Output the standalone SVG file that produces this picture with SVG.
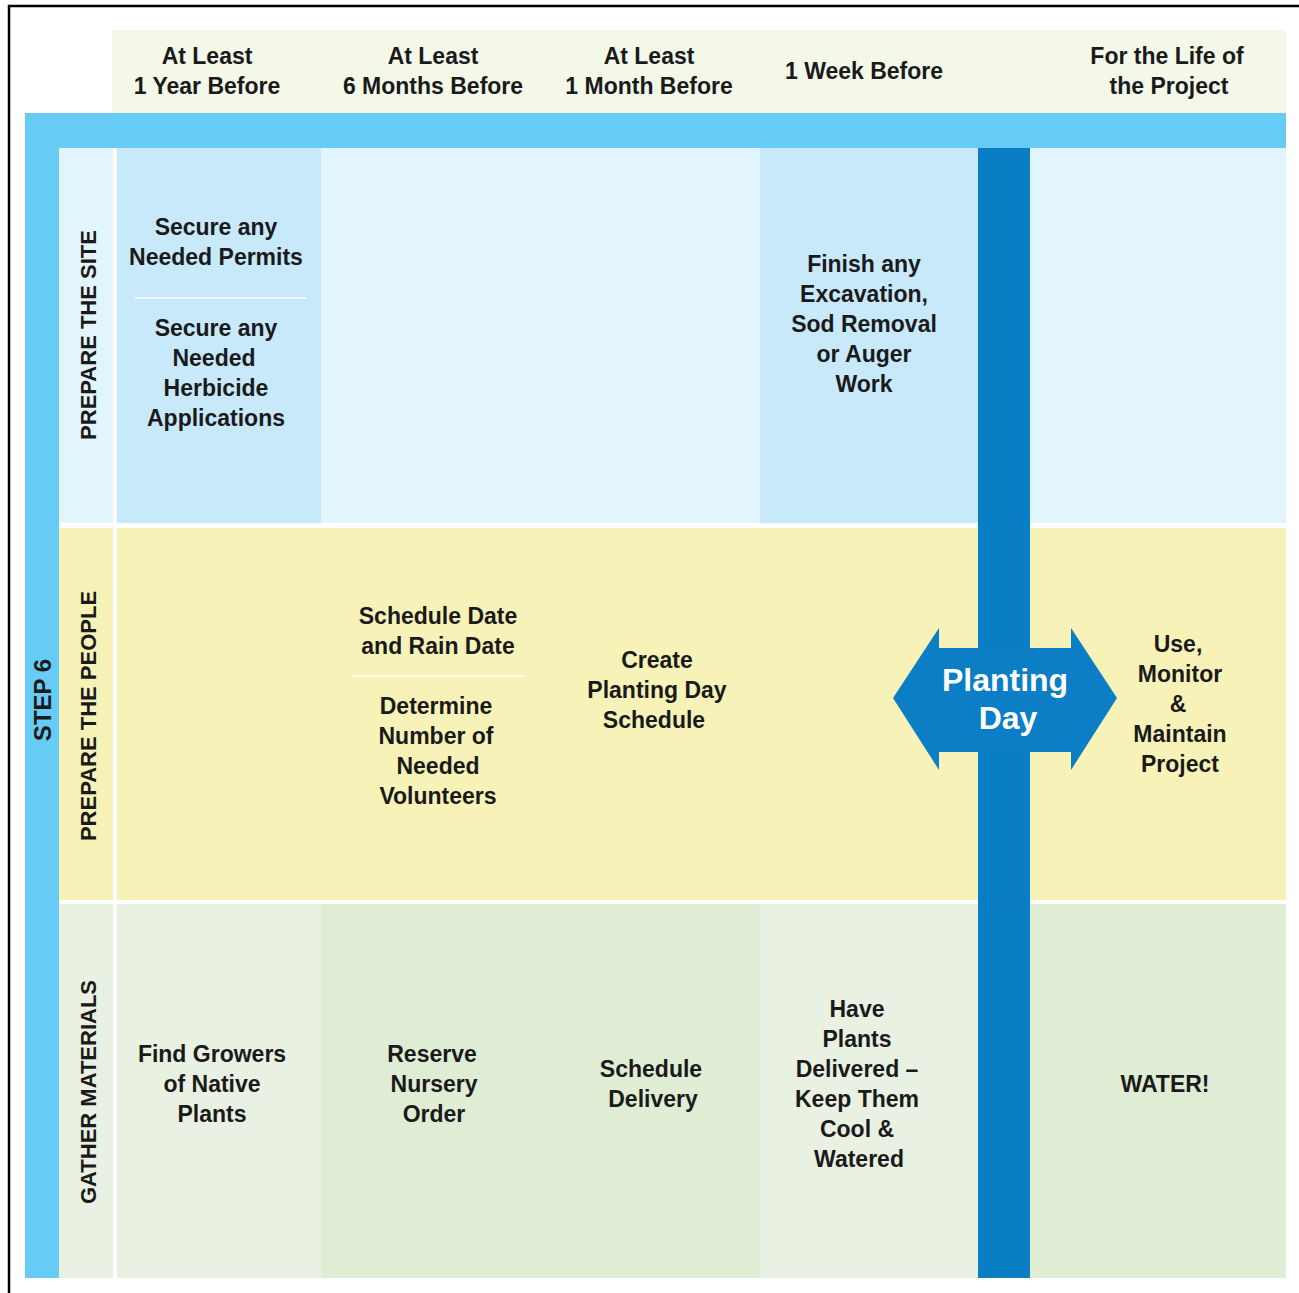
<svg xmlns="http://www.w3.org/2000/svg" width="1299" height="1293" viewBox="0 0 1299 1293">
<style>
  text { font-family: "Liberation Sans", Arial, sans-serif; font-weight: bold; font-size: 23px; fill: #1a1a1a; text-anchor: middle; }
  .lbl { font-size: 22px; }
  .step { font-size: 24px; }
  .pd { fill: #ffffff; font-size: 32px; }
  .sep { stroke: #ffffff; stroke-width: 2; opacity: 0.8; }
</style>
<rect x="0" y="0" width="1299" height="1293" fill="#ffffff"/>
<!-- outer frame -->
<path d="M9,1293 V6 H1299" fill="none" stroke="#000000" stroke-width="2.5"/>

<!-- header band -->
<g id="header">
  <rect x="112" y="30" width="1174" height="83" fill="#f3f8e9"/>
  <text x="207" y="64">At Least</text><text x="207" y="94">1 Year Before</text>
  <text x="433" y="64">At Least</text><text x="433" y="94">6 Months Before</text>
  <text x="649" y="64">At Least</text><text x="649" y="94">1 Month Before</text>
  <text x="864" y="79">1 Week Before</text>
  <text x="1167" y="64">For the Life of</text><text x="1169" y="94">the Project</text>
</g>

<!-- light blue frame bars -->
<g id="step6">
  <rect x="25" y="113" width="1261" height="35" fill="#66ccf5"/>
  <rect x="25" y="113" width="34" height="1165" fill="#66ccf5"/>
  <text class="step" transform="translate(51,700) rotate(-90)">STEP 6</text>
</g>

<!-- row 1: prepare the site -->
<g id="row-site">
  <rect x="59" y="148" width="54" height="375" fill="#e2f4fc"/>
  <rect x="117" y="148" width="1169" height="375" fill="#e3f5fc"/>
  <rect x="117" y="148" width="204" height="375" fill="#c7e9fa"/>
  <rect x="760" y="148" width="218" height="375" fill="#c7e9fa"/>
  <text class="lbl" transform="translate(96,335) rotate(-90)">PREPARE THE SITE</text>
</g>

<!-- row 2: prepare the people -->
<g id="row-people">
  <rect x="59" y="528" width="54" height="372" fill="#f7f2b8"/>
  <rect x="117" y="528" width="1169" height="372" fill="#f7f3b8"/>
  <text class="lbl" transform="translate(96,716) rotate(-90)">PREPARE THE PEOPLE</text>
</g>

<!-- row 3: gather materials -->
<g id="row-materials">
  <rect x="59" y="904" width="54" height="374" fill="#e8f1e2"/>
  <rect x="117" y="904" width="1169" height="374" fill="#dfedd5"/>
  <rect x="117" y="904" width="204" height="374" fill="#e8f1e2"/>
  <rect x="760" y="904" width="218" height="374" fill="#e8f1e2"/>
  <text class="lbl" transform="translate(96,1092) rotate(-90)">GATHER MATERIALS</text>
</g>

<!-- planting day bar -->
<g id="planting-day-bar">
  <rect x="978" y="148" width="52" height="1130" fill="#0a7ec4"/>
</g>

<!-- cells row 1 -->
<g id="permits">
  <text x="216" y="235">Secure any</text><text x="216" y="265">Needed Permits</text>
  <line class="sep" x1="135" y1="298" x2="306" y2="298"/>
</g>
<g id="herbicide">
  <text x="216" y="336">Secure any</text><text x="214" y="366">Needed</text>
  <text x="216" y="396">Herbicide</text><text x="216" y="426">Applications</text>
</g>
<g id="excavation">
  <text x="864" y="272">Finish any</text><text x="864" y="302">Excavation,</text>
  <text x="864" y="332">Sod Removal</text><text x="864" y="362">or Auger</text>
  <text x="864" y="392">Work</text>
</g>

<!-- cells row 2 -->
<g id="schedule-date">
  <text x="438" y="624">Schedule Date</text><text x="438" y="654">and Rain Date</text>
  <line class="sep" x1="352" y1="676" x2="524" y2="676"/>
</g>
<g id="volunteers">
  <text x="436" y="714">Determine</text><text x="436" y="744">Number of</text>
  <text x="438" y="774">Needed</text><text x="438" y="804">Volunteers</text>
</g>
<g id="day-schedule">
  <text x="657" y="668">Create</text><text x="657" y="698">Planting Day</text>
  <text x="654" y="728">Schedule</text>
</g>
<g id="planting-day">
  <polygon points="893,698 939,628 939,648 1071,648 1071,628 1117,698 1071,770 1071,752 939,752 939,770" fill="#0b7ec5"/>
  <text class="pd" x="1005" y="691">Planting</text>
  <text class="pd" x="1008" y="729">Day</text>
</g>
<g id="maintain">
  <text x="1178" y="652">Use,</text><text x="1180" y="682">Monitor</text>
  <text x="1178" y="712">&amp;</text><text x="1180" y="742">Maintain</text>
  <text x="1180" y="772">Project</text>
</g>

<!-- cells row 3 -->
<g id="growers">
  <text x="212" y="1062">Find Growers</text><text x="212" y="1092">of Native</text><text x="212" y="1122">Plants</text>
</g>
<g id="nursery">
  <text x="432" y="1062">Reserve</text><text x="434" y="1092">Nursery</text><text x="434" y="1122">Order</text>
</g>
<g id="delivery">
  <text x="651" y="1077">Schedule</text><text x="653" y="1107">Delivery</text>
</g>
<g id="delivered">
  <text x="857" y="1017">Have</text><text x="857" y="1047">Plants</text>
  <text x="857" y="1077">Delivered –</text><text x="857" y="1107">Keep Them</text>
  <text x="857" y="1137">Cool &amp;</text><text x="859" y="1167">Watered</text>
</g>
<g id="water">
  <text x="1165" y="1092">WATER!</text>
</g>

<g id="connectors"></g>
</svg>
